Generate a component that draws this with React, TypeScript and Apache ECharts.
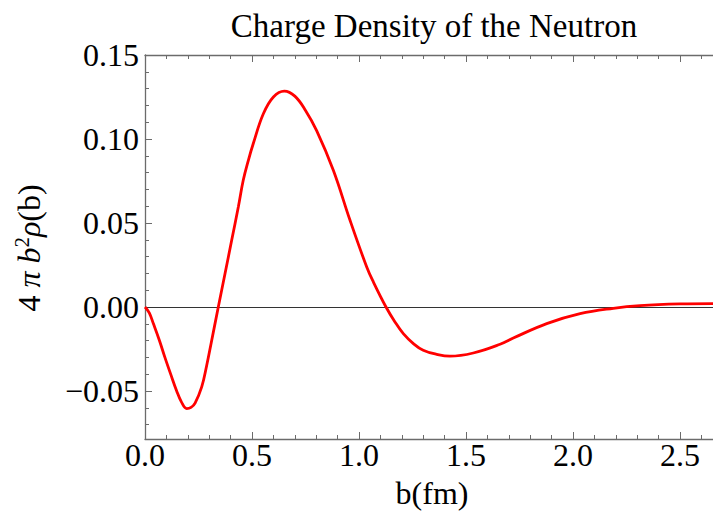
import React, { useEffect, useRef } from "react";
import * as echarts from "echarts";

const titleText = "Charge Density of the Neutron";
const xAxisName = "b(fm)";
const xMax = 2.654;
const yMin = -0.0786;
const yMax = 0.15;
const xMajorTicks = [0, 0.5, 1.0, 1.5, 2.0, 2.5];
const xMinorTicks = [0.1, 0.2, 0.3, 0.4, 0.6, 0.7, 0.8, 0.9, 1.1, 1.2, 1.3, 1.4, 1.6, 1.7, 1.8, 1.9, 2.1, 2.2, 2.3, 2.4, 2.6];
const yMajorTicks = [-0.05, 0, 0.05, 0.1, 0.15];
const yMinorTicks = [-0.07, -0.06, -0.04, -0.03, -0.02, -0.01, 0.01, 0.02, 0.03, 0.04, 0.06, 0.07, 0.08, 0.09, 0.11, 0.12, 0.13, 0.14];

const bValues = [
  0, 0.02, 0.039, 0.067, 0.093, 0.12, 0.148, 0.17, 0.195, 0.215, 0.234, 0.265, 0.288, 0.31, 0.3425,
  0.374, 0.405, 0.436, 0.459, 0.483, 0.506, 0.553, 0.6, 0.651, 0.7, 0.75, 0.802, 0.88, 0.958, 1.036,
  1.067, 1.126, 1.168, 1.207, 1.254, 1.3, 1.363, 1.425, 1.534, 1.659, 1.721, 1.877, 2.033, 2.188,
  2.313, 2.5, 2.654,
];
const rhoValues = [
  0, -0.0035, -0.0099, -0.0198, -0.03, -0.04, -0.05, -0.0565, -0.0605, -0.0598, -0.0572, -0.0476, -0.035, -0.021, 0,
  0.0199, 0.0397, 0.0595, 0.0754, 0.0873, 0.0973, 0.115, 0.125, 0.1285, 0.1255, 0.117, 0.105, 0.0814, 0.0516, 0.0238,
  0.0149, 0, -0.0089, -0.0159, -0.0218, -0.0258, -0.0282, -0.0293, -0.0274, -0.0222, -0.0185, -0.0099, -0.004, -0.0008,
  0.0008, 0.0018, 0.002,
];

const FONT = "'Liberation Serif', 'Times New Roman', serif";
const FRAME = "#6b6b6b";

export default function App() {
  const ref = useRef<HTMLDivElement>(null);
  useEffect(() => {
    if (!ref.current) return;
    const chart = echarts.init(ref.current, null, { renderer: "svg" });
    const data = bValues.map((b, i) => [b, rhoValues[i]]);
    const baseX = {
      type: "value" as const,
      min: 0,
      max: xMax,
      splitLine: { show: false },
    };
    const baseY = {
      type: "value" as const,
      min: yMin,
      max: yMax,
      splitLine: { show: false },
    };
    chart.setOption({
      animation: false,
      backgroundColor: "#ffffff",
      grid: { left: 145, right: 0, top: 55, bottom: 77, containLabel: false },
      xAxis: [
        {
          ...baseX,
          position: "bottom",
          axisLine: { show: true, onZero: false, lineStyle: { color: FRAME, width: 1.3 } },
          axisTick: { show: true, inside: true, length: 7, customValues: xMajorTicks, lineStyle: { color: FRAME, width: 1 } },
          axisLabel: {
            show: true,
            customValues: xMajorTicks,
            formatter: (v: number) => v.toFixed(1),
            fontFamily: FONT,
            fontSize: 32,
            color: "#000",
            margin: 0,
          },
        },
        {
          ...baseX,
          position: "bottom",
          axisLine: { show: false, onZero: false },
          axisTick: { show: true, inside: true, length: 4, customValues: xMinorTicks, lineStyle: { color: FRAME, width: 1 } },
          axisLabel: { show: false },
        },
        {
          ...baseX,
          position: "top",
          axisLine: { show: true, onZero: false, lineStyle: { color: FRAME, width: 1.3 } },
          axisTick: { show: true, inside: true, length: 7, customValues: xMajorTicks, lineStyle: { color: FRAME, width: 1 } },
          axisLabel: { show: false },
        },
        {
          ...baseX,
          position: "top",
          axisLine: { show: false, onZero: false },
          axisTick: { show: true, inside: true, length: 4, customValues: xMinorTicks, lineStyle: { color: FRAME, width: 1 } },
          axisLabel: { show: false },
        },
      ],
      yAxis: [
        {
          ...baseY,
          position: "left",
          axisLine: { show: true, onZero: false, lineStyle: { color: FRAME, width: 1.3 } },
          axisTick: { show: true, inside: true, length: 7, customValues: yMajorTicks, lineStyle: { color: FRAME, width: 1 } },
          axisLabel: {
            show: true,
            customValues: yMajorTicks,
            formatter: (v: number) => (v < -1e-9 ? "\u2212" + Math.abs(v).toFixed(2) : Math.abs(v).toFixed(2)),
            fontFamily: FONT,
            fontSize: 32,
            color: "#000",
            margin: 6,
          },
        },
        {
          ...baseY,
          position: "left",
          offset: 0,
          axisLine: { show: false, onZero: false },
          axisTick: { show: true, inside: true, length: 4, customValues: yMinorTicks, lineStyle: { color: FRAME, width: 1 } },
          axisLabel: { show: false },
        },
      ],
      series: [
        {
          type: "line",
          xAxisIndex: 0,
          yAxisIndex: 0,
          data,
          showSymbol: false,
          symbol: "none",
          smooth: 0.4,
          lineStyle: { color: "#ff0000", width: 2.8 },
          z: 3,
          markLine: {
            silent: true,
            symbol: "none",
            label: { show: false },
            lineStyle: { color: "#333333", width: 1.1, type: "solid" },
            data: [{ yAxis: 0 }],
            z: 2,
          },
        },
      ],
      graphic: [
        {
          type: "text",
          x: 434,
          y: 26,
          style: {
            text: titleText,
            font: `33px ${FONT}`,
            fill: "#000",
            textAlign: "center",
            textVerticalAlign: "middle",
            align: "center",
            verticalAlign: "middle",
          },
        },
        {
          type: "text",
          x: 432,
          y: 493,
          style: {
            text: xAxisName,
            font: `32px ${FONT}`,
            fill: "#000",
            textAlign: "center",
            textVerticalAlign: "middle",
            align: "center",
            verticalAlign: "middle",
          },
        },
        {
          type: "text",
          x: 29,
          y: 248,
          rotation: Math.PI / 2,
          style: {
            text: "{n|4 }{i|\u03c0 b}{s|2}{i|\u03c1}{n|(b)}",
            fill: "#000",
            textAlign: "center",
            textVerticalAlign: "middle",
            align: "center",
            verticalAlign: "middle",
            fontFamily: FONT,
            fontSize: 32,
            rich: {
              n: { fontFamily: FONT, fontSize: 32, fill: "#000", lineHeight: 36 },
              i: { fontFamily: FONT, fontSize: 32, fontStyle: "italic", fill: "#000", lineHeight: 36 },
              s: { fontFamily: FONT, fontSize: 21, fill: "#000", verticalAlign: "top", lineHeight: 36 },
            },
          },
        },
      ],
    });
    return () => chart.dispose();
  }, []);
  return <div ref={ref} style={{ width: 713, height: 516, position: "absolute", left: 0, top: 0 }} />;
}
